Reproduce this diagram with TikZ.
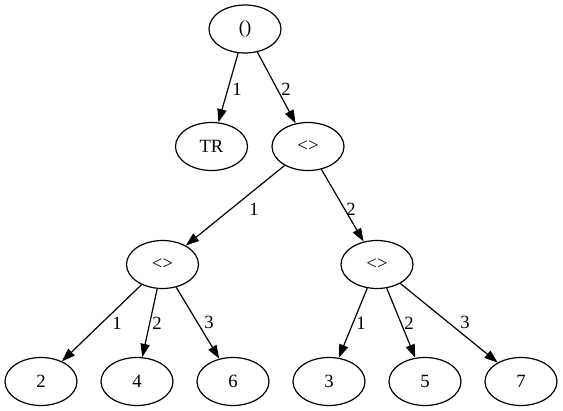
\documentclass[tikz,border=0pt]{standalone}
\usepackage{fontspec}
\setmainfont{Liberation Serif}
\usetikzlibrary{shapes.geometric,arrows.meta}
\begin{document}
\begin{tikzpicture}[x=1pt,y=-1pt,
  tn/.style={draw,ellipse,line width=1.2pt,minimum width=72pt,minimum height=48pt,inner sep=0pt,font=\fontsize{18.67}{20}\selectfont},
  arr/.style={line width=1.2pt,-{Triangle[length=13.3pt,width=9.3pt]}},
  lab/.style={inner sep=0pt,font=\fontsize{18.67}{20}\selectfont}]
\useasboundingbox (0,0) rectangle (563,411);
\node[tn] (root) at (245,29) {()};
\node[tn] (tr) at (211.5,146.5) {TR};
\node[tn] (a) at (308,146.5) {<>};
\node[tn] (b) at (162.5,264.5) {<>};
\node[tn] (c) at (377,264.5) {<>};
\node[tn] (n2) at (41,381.5) {2};
\node[tn] (n4) at (137,381.5) {4};
\node[tn] (n6) at (233,381.5) {6};
\node[tn] (n3) at (329,381.5) {3};
\node[tn] (n5) at (425,381.5) {5};
\node[tn] (n7) at (521,381.5) {7};
\draw[arr] (root) -- (tr);
\draw[arr] (root) -- (a);
\draw[arr] (a) -- (b);
\draw[arr] (a) -- (c);
\draw[arr] (b) -- (n2);
\draw[arr] (b) -- (n4);
\draw[arr] (b) -- (n6);
\draw[arr] (c) -- (n3);
\draw[arr] (c) -- (n5);
\draw[arr] (c) -- (n7);
\node[lab] (l1) at (237,89) {1};
\node[lab] (l2) at (286,89) {2};
\node[lab] (l3) at (254,209) {1};
\node[lab] (l4) at (351,209) {2};
\node[lab] (l5) at (117,323) {1};
\node[lab] (l6) at (157,323) {2};
\node[lab] (l7) at (209,322) {3};
\node[lab] (l8) at (361,323) {1};
\node[lab] (l9) at (409,323) {2};
\node[lab] (l10) at (465,322) {3};
\end{tikzpicture}
\end{document}
